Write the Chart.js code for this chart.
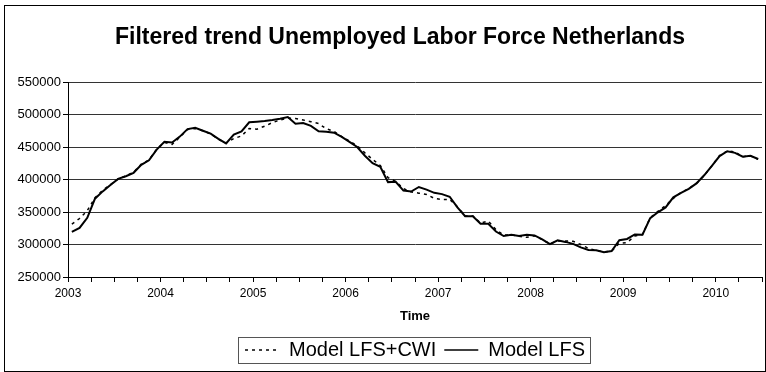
<!DOCTYPE html>
<html>
<head>
<meta charset="utf-8">
<title>Filtered trend Unemployed Labor Force Netherlands</title>
<script src="https://cdn.jsdelivr.net/npm/chart.js@4.4.1/dist/chart.umd.min.js"></script>
<style>
    html, body { margin: 0; padding: 0; background: #fff; }
    #trendChart { display: block; }
</style>
</head>
<body>
<canvas id="trendChart" width="766" height="372"></canvas>
<script>
// Monthly filtered trend, Jan 2003 - Jun 2010
var startYear = 2003;
var chartTitle = 'Filtered trend Unemployed Labor Force Netherlands';

var modelLfsCwi = [
    331500, 340000, 352000, 372000, 383500, 392000, 401000, 405500, 411000, 423500, 430000, 446500,
    457000, 454000, 465000, 477000, 478500, 475000, 470000, 462000, 456000, 463000, 467000, 478500,
    477500, 482000, 487500, 491500, 494500, 494000, 491500, 489000, 486000, 478000, 474000, 466000,
    459000, 452000, 441000, 431000, 421500, 403000, 397000, 386000, 381000, 379000, 377000, 371000,
    369000, 369500, 358000, 344000, 344000, 333000, 336000, 323000, 314500, 315000, 312500, 311000,
    313500, 307500, 301000, 305500, 305500, 305000, 300000, 294000, 291000, 288500, 290000, 302000,
    303000, 313000, 315500, 341000, 351000, 360000, 371000, 380000, 386000, 394000, 406000, 421000,
    437000, 444000, 442500, 435000, 436500, 431000
];

var modelLfs = [
    319500, 325500, 341000, 370500, 381700, 391500, 401000, 405000, 410300, 422500, 429500, 446000,
    458000, 457000, 466000, 477500, 479500, 475000, 470500, 462500, 455500, 469000, 474000, 488000,
    489000, 490000, 491500, 493500, 496000, 485700, 487000, 482500, 474300, 473500, 472000, 465500,
    458000, 450000, 436500, 425000, 419500, 396000, 396500, 383000, 381500, 388500, 384500, 379500,
    377500, 373500, 357000, 343600, 343600, 332000, 332000, 320000, 313000, 315000, 313000, 315000,
    314000, 308000, 300500, 306500, 304000, 301000, 295500, 291500, 291000, 288000, 290000, 306500,
    308500, 315500, 315000, 340500, 349500, 357000, 372500, 379500, 385500, 394000, 406500, 421000,
    436000, 443500, 441000, 435000, 436500, 431500
];

var yTicks = [250000, 300000, 350000, 400000, 450000, 500000, 550000];
var yearLabels = [2003, 2004, 2005, 2006, 2007, 2008, 2009, 2010];

var fontFamily = "'Liberation Sans', Arial, sans-serif";

// points sit in the middle of each month
function toPoints(values) {
    return values.map(function (v, i) {
        return { x: startYear + (i + 0.5) / 12, y: v };
    });
}

// white background, outer frame, title and the box round the legend
var framePlugin = {
    id: 'frame',
    beforeDraw: function (chart) {
        var ctx = chart.ctx;
        ctx.save();
        ctx.fillStyle = '#fff';
        ctx.fillRect(0, 0, chart.width, chart.height);
        ctx.restore();
    },
    afterDraw: function (chart) {
        var ctx = chart.ctx;
        ctx.save();
        ctx.strokeStyle = '#000';
        ctx.lineWidth = 1;
        ctx.strokeRect(4.5, 5.5, 761, 366);

        ctx.fillStyle = '#000';
        ctx.font = 'bold 23px ' + fontFamily;
        ctx.textAlign = 'center';
        ctx.textBaseline = 'middle';
        ctx.fillText(chartTitle, 400, 38);

        var boxes = chart.legend.legendHitBoxes;
        if (boxes && boxes.length) {
            var first = boxes[0];
            var last = boxes[boxes.length - 1];
            var x0 = Math.round(first.left - 7) + 0.5;
            var x1 = Math.round(last.left + last.width + 5) + 0.5;
            var y0 = Math.round(first.top - 3) + 0.5;
            var y1 = Math.round(first.top + first.height + 3) + 0.5;
            ctx.strokeStyle = '#555';
            ctx.strokeRect(x0, y0, x1 - x0, y1 - y0);
        }
        ctx.restore();
    }
};

new Chart(document.getElementById('trendChart'), {
    type: 'line',
    data: {
        datasets: [
            {
                label: 'Model LFS+CWI',
                data: toPoints(modelLfsCwi),
                borderColor: '#000',
                backgroundColor: '#000',
                borderWidth: 1.5,
                borderDash: [3, 4],
                pointRadius: 0,
                tension: 0
            },
            {
                label: 'Model LFS',
                data: toPoints(modelLfs),
                borderColor: '#000',
                backgroundColor: '#000',
                borderWidth: 2,
                pointRadius: 0,
                tension: 0
            }
        ]
    },
    options: {
        responsive: false,
        animation: false,
        events: [],
        layout: {
            padding: { left: 0, right: 0, top: 82, bottom: 2 }
        },
        plugins: {
            title: { display: false },
            legend: {
                display: true,
                position: 'bottom',
                fullSize: false,
                labels: {
                    color: '#000',
                    usePointStyle: true,
                    pointStyle: 'line',
                    pointStyleWidth: 34,
                    padding: 8,
                    font: { family: fontFamily, size: 20 },
                    // line samples with the dataset's own dash pattern
                    generateLabels: function (chart) {
                        return chart.data.datasets.map(function (ds, i) {
                            return {
                                text: ds.label,
                                datasetIndex: i,
                                fillStyle: ds.borderColor,
                                strokeStyle: ds.borderColor,
                                fontColor: '#000',
                                lineWidth: 1.5,
                                lineDash: ds.borderDash || [],
                                pointStyle: 'line',
                                hidden: false
                            };
                        });
                    }
                }
            },
            tooltip: { enabled: false }
        },
        scales: {
            x: {
                type: 'linear',
                min: startYear,
                max: 2010.5,
                afterFit: function (scale) { scale.height = 55; },
                afterBuildTicks: function (scale) {
                    var ticks = [];
                    for (var q = 0; q <= 30; q++) {
                        ticks.push({ value: startYear + q * 0.25 });
                    }
                    scale.ticks = ticks;
                },
                ticks: {
                    autoSkip: false,
                    maxRotation: 0,
                    padding: 4,
                    color: '#000',
                    font: { family: fontFamily, size: 12 },
                    callback: function (value) {
                        return yearLabels.indexOf(value) >= 0 ? String(value) : '';
                    }
                },
                grid: {
                    drawOnChartArea: false,
                    drawTicks: true,
                    tickLength: 5,
                    color: '#000'
                },
                border: { color: '#000', width: 1 },
                title: {
                    display: true,
                    text: 'Time',
                    color: '#000',
                    font: { family: fontFamily, size: 13, weight: 'bold' },
                    padding: { top: 4, bottom: 8 }
                }
            },
            y: {
                min: yTicks[0],
                max: yTicks[yTicks.length - 1],
                afterFit: function (scale) { scale.width = 68; },
                afterBuildTicks: function (scale) {
                    scale.ticks = yTicks.map(function (v) { return { value: v }; });
                },
                ticks: {
                    padding: 2,
                    color: '#000',
                    font: { family: fontFamily, size: 13 },
                    callback: function (value) { return String(value); }
                },
                grid: {
                    color: '#333',
                    tickColor: '#000',
                    tickLength: 5
                },
                border: { color: '#000', width: 1 }
            }
        }
    },
    plugins: [framePlugin]
});
</script>
</body>
</html>
